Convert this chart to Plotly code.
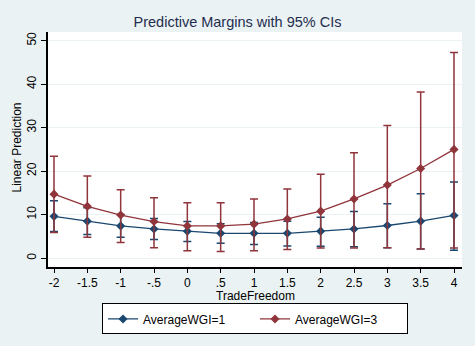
import plotly.graph_objects as go

trade_freedom = [-2, -1.5, -1, -0.5, 0, 0.5, 1, 1.5, 2, 2.5, 3, 3.5, 4]
tick_labels = ["-2", "-1.5", "-1", "-.5", "0", ".5", "1", "1.5", "2", "2.5", "3", "3.5", "4"]

wgi1_mean = [9.6, 8.5, 7.4, 6.7, 6.2, 5.7, 5.7, 5.7, 6.2, 6.7, 7.5, 8.5, 9.8]
wgi1_upper = [13.2, 11.6, 10.0, 9.1, 8.4, 7.9, 8.2, 8.5, 9.4, 10.7, 12.5, 14.8, 17.5]
wgi1_lower = [6.1, 5.4, 4.8, 4.3, 3.8, 3.4, 3.1, 2.8, 2.7, 2.6, 2.4, 2.1, 1.8]

wgi3_mean = [14.7, 11.9, 9.9, 8.4, 7.4, 7.4, 7.8, 9.0, 10.8, 13.6, 16.8, 20.6, 25.0]
wgi3_upper = [23.4, 18.9, 15.7, 13.9, 12.7, 12.7, 13.6, 15.9, 19.3, 24.2, 30.5, 38.2, 47.3]
wgi3_lower = [5.9, 4.8, 3.6, 2.4, 1.7, 1.5, 1.7, 2.0, 2.3, 2.3, 2.4, 2.1, 2.3]

series = [
    ("AverageWGI=1", wgi1_mean, wgi1_upper, wgi1_lower, "#1a476f"),
    ("AverageWGI=3", wgi3_mean, wgi3_upper, wgi3_lower, "#90353b"),
]

fig = go.Figure()
for name, mean, up, lo, col in series:
    fig.add_trace(go.Scatter(
        x=trade_freedom, y=mean, name=name, mode="lines+markers",
        line=dict(color=col, width=1.3),
        marker=dict(symbol="diamond", size=7, color=col),
        error_y=dict(type="data", symmetric=False,
                     array=[u - m for u, m in zip(up, mean)],
                     arrayminus=[m - l for m, l in zip(mean, lo)],
                     color=col, thickness=1.5, width=4),
    ))

font_family = "Liberation Sans, Arial, sans-serif"
fig.update_layout(
    width=475, height=346,
    margin=dict(l=48, r=13, t=32, b=76),
    paper_bgcolor="#eaf2f3", plot_bgcolor="#ffffff",
    font=dict(family=font_family, size=12, color="#000000"),
    title=dict(text="Predictive Margins with 95% CIs", x=0.5, xanchor="center",
               y=1 - 22 / 346, yanchor="middle",
               font=dict(size=14.5, color="#1f2d4f")),
    showlegend=True,
    legend=dict(orientation="h", x=0.5, xanchor="center", y=-0.155, yanchor="top",
                bgcolor="#ffffff", bordercolor="#000000", borderwidth=1,
                font=dict(size=12), entrywidth=107, entrywidthmode="pixels"),
    xaxis=dict(range=[-2.09, 4.12], tickvals=trade_freedom, ticktext=tick_labels,
               showgrid=False, zeroline=False, showline=True, linecolor="#000000",
               linewidth=1.5, ticks="outside", ticklen=4, tickcolor="#000000"),
    yaxis=dict(range=[-2.05, 52.0], tickvals=[0, 10, 20, 30, 40, 50], tickangle=-90,
               showgrid=True, gridcolor="#eaf2f3", gridwidth=1, zeroline=False,
               showline=True, linecolor="#000000", linewidth=1.5,
               ticks="outside", ticklen=5, tickcolor="#000000"),
    annotations=[
        dict(text="TradeFreedom", xref="paper", yref="paper", x=0.5, y=-29 / 238,
             xanchor="center", yanchor="middle", showarrow=False, font=dict(size=12)),
        dict(text="Linear Prediction", xref="paper", yref="paper", x=-31 / 414, y=121 / 238,
             xanchor="center", yanchor="middle", textangle=-90, showarrow=False,
             font=dict(size=12)),
    ],
)

fig.write_html("out.html")
